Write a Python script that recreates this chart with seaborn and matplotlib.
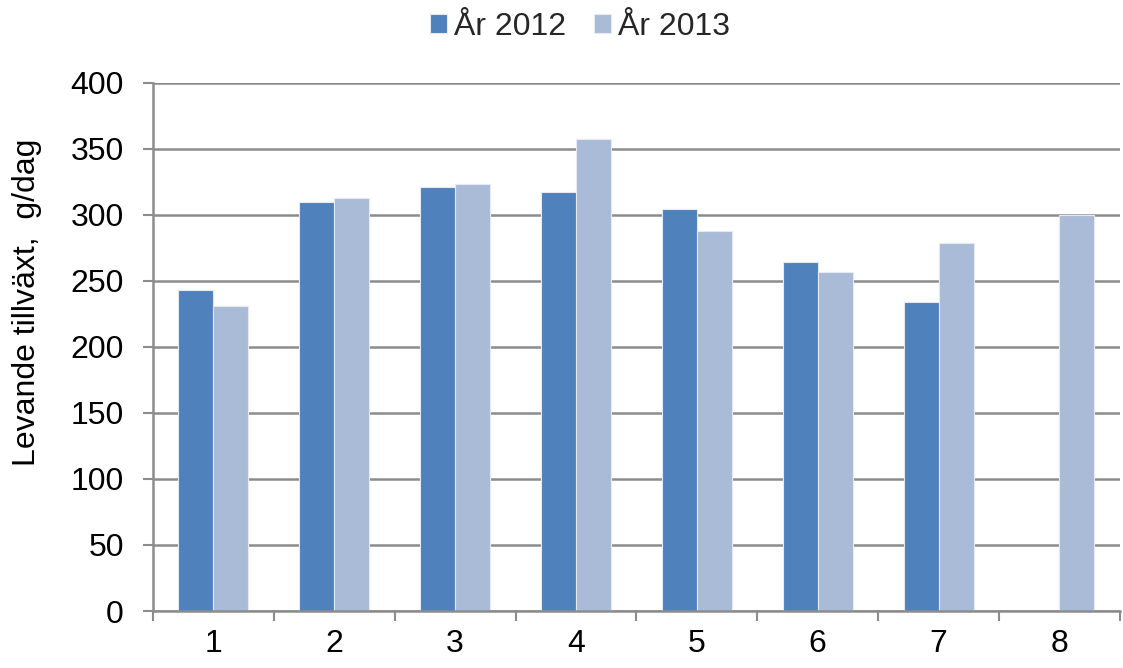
import numpy as np
import pandas as pd
import matplotlib
matplotlib.use("Agg")
import matplotlib.pyplot as plt
import seaborn as sns

categories = ["1", "2", "3", "4", "5", "6", "7", "8"]
years = ["År 2012", "År 2013"]
values_2012 = [243, 310, 321, 317, 304.5, 264, 234, np.nan]
values_2013 = [231, 312.5, 323.5, 357, 287.5, 256.5, 279, 300]
y_ticks = [0, 50, 100, 150, 200, 250, 300, 350, 400]
y_label = "Levande tillväxt,  g/dag"
colors = ["#4F81BD", "#AABBD7"]

df = pd.DataFrame({
    "kategori": categories * 2,
    "år": [years[0]] * len(categories) + [years[1]] * len(categories),
    "värde": values_2012 + values_2013,
})

sns.set_theme(style="white")
plt.rcParams["font.family"] = ["Liberation Sans", "DejaVu Sans"]

fig = plt.figure(figsize=(11.23, 6.68), dpi=100)
ax = fig.add_axes([0.1362, 0.0853, 0.8610, 0.7909])

sns.barplot(data=df, x="kategori", y="värde", hue="år", order=categories,
            hue_order=years, palette=colors, width=0.58, gap=0,
            edgecolor="#E4E9F2", linewidth=0.8, saturation=1, errorbar=None, ax=ax)

ax.set_ylim(0, 400)
ax.set_xlim(-0.5, len(categories) - 0.5)
ax.set_yticks(y_ticks)
ax.yaxis.grid(True, color="#8C8C8C", linewidth=1.8)
ax.set_axisbelow(True)

# tick marks on category boundaries, labels centred
ax.set_xticks(np.arange(-0.5, len(categories) + 0.5, 1))
ax.set_xticklabels([])
ax.set_xticks(np.arange(len(categories)), minor=True)
ax.set_xticklabels(categories, minor=True)
ax.tick_params(axis="x", which="major", direction="out", length=7, width=1.5,
               color="#8C8C8C", bottom=True)
ax.tick_params(axis="x", which="minor", length=0, labelsize=23, pad=13,
               labelcolor="black")
ax.tick_params(axis="y", direction="out", length=7, width=1.5, color="#8C8C8C",
               left=True, labelsize=23, pad=14, labelcolor="black")

for side in ["top", "right"]:
    ax.spines[side].set_visible(False)
for side in ["left", "bottom"]:
    ax.spines[side].set_color("#8C8C8C")
    ax.spines[side].set_linewidth(1.8)

ax.set_xlabel("")
ax.set_ylabel(y_label, fontsize=23, color="black")
ax.yaxis.set_label_coords(-0.115, 0.585)

handles, labels = ax.get_legend_handles_labels()
ax.legend(handles, labels, loc="center", bbox_to_anchor=(0.4416, 1.105),
          ncol=2, frameon=False, fontsize=23, handlelength=0.53, handleheight=0.53,
          handletextpad=0.22, columnspacing=0.87, borderaxespad=0)

fig.savefig("out.png", dpi=100)
